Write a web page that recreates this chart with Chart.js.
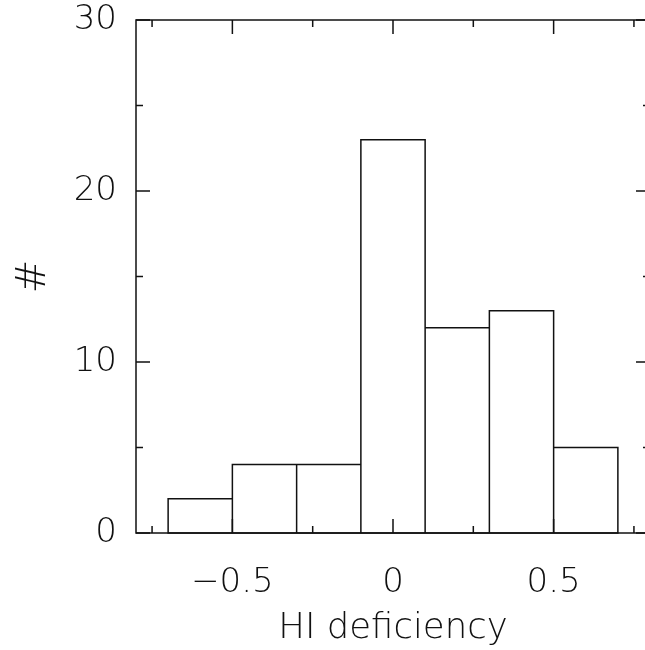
<!DOCTYPE html>
<html>
<head>
<meta charset="utf-8">
<script src="https://cdn.jsdelivr.net/npm/chart.js@4.4.1/dist/chart.umd.min.js"></script>
<style>
  html, body { margin:0; padding:0; background:#fff; overflow:hidden; }
  #wrap { width:645px; height:650px; overflow:hidden; position:relative; }
  #histo { display:block; }
</style>
</head>
<body>
<div id="wrap"><canvas id="histo" width="660" height="650"></canvas></div>
<script>
// ── Data ─────────────────────────────────────────────────────────
const binCenters = [-0.6, -0.4, -0.2, 0, 0.2, 0.4, 0.6];
const binCounts  = [2, 4, 4, 23, 12, 13, 5];
const xTickValues = [-0.5, 0, 0.5];
const xTickLabels = ['\u22120.5', '0', '0.5'];
const yTickValues = [0, 10, 20, 30];
const xTitle = 'HI deficiency';
const yTitle = '#';

const FONT = { family:"'DejaVu Sans', sans-serif", size:34, weight:'200', lineHeight:1.18 };
const INK = '#111';

// ── Bar outlines (shared edges drawn once) + frame + inward ticks ─
const framePlugin = {
  id: 'frame',
  afterDatasetsDraw(chart) {
    const { ctx, chartArea:a, scales:{ x, y } } = chart;
    const majorLen = 14, minorLen = 7;
    ctx.save();
    ctx.strokeStyle = INK;
    ctx.lineWidth = 1.5;

    // histogram outlines from the bar elements Chart.js laid out
    ctx.beginPath();
    chart.getDatasetMeta(0).data.forEach(bar => {
      const p = bar.getProps(['x', 'y', 'base', 'width'], true);
      ctx.rect(p.x - p.width / 2, p.y, p.width, p.base - p.y);
    });
    ctx.stroke();

    ctx.strokeRect(a.left, a.top, a.right - a.left, a.bottom - a.top);

    const minors = (vals, lo, hi) => {
      const half = (vals[1] - vals[0]) / 2;
      const out = [];
      for (let v = vals[0] - half; v >= lo - 1e-9; v -= 2*half) out.push(v);
      vals.forEach(v => out.push(v + half));
      return out.filter(v => v > lo + 1e-9 && v < hi - 1e-9);
    };

    ctx.beginPath();
    const xt = x.ticks.map(t => t.value);
    xt.forEach(v => {
      const px = x.getPixelForValue(v);
      ctx.moveTo(px, a.bottom); ctx.lineTo(px, a.bottom - majorLen);
      ctx.moveTo(px, a.top);    ctx.lineTo(px, a.top + majorLen);
    });
    minors(xt, x.min, x.max).forEach(v => {
      const px = x.getPixelForValue(v);
      ctx.moveTo(px, a.bottom); ctx.lineTo(px, a.bottom - minorLen);
      ctx.moveTo(px, a.top);    ctx.lineTo(px, a.top + minorLen);
    });
    const yt = y.ticks.map(t => t.value);
    yt.forEach(v => {
      const py = y.getPixelForValue(v);
      ctx.moveTo(a.left, py);  ctx.lineTo(a.left + majorLen, py);
      ctx.moveTo(a.right, py); ctx.lineTo(a.right - majorLen, py);
    });
    minors(yt, y.min, y.max).forEach(v => {
      const py = y.getPixelForValue(v);
      ctx.moveTo(a.left, py);  ctx.lineTo(a.left + minorLen, py);
      ctx.moveTo(a.right, py); ctx.lineTo(a.right - minorLen, py);
    });
    ctx.stroke();
    ctx.restore();
  }
};

new Chart(document.getElementById('histo'), {
  type: 'bar',
  data: {
    datasets: [{
      data: binCenters.map((c, i) => ({ x:c, y:binCounts[i] })),
      backgroundColor: 'rgba(255,255,255,0)',
      borderWidth: 0,
      barPercentage: 1,
      categoryPercentage: 1,
    }]
  },
  options: {
    responsive: false,
    animation: false,
    layout: { padding: { left:0, right:10, top:0, bottom:0 } },
    plugins: { legend:{ display:false }, tooltip:{ enabled:false } },
    scales: {
      x: {
        type: 'linear',
        offset: false,
        min: -0.8, max: 0.8,
        grid: { display:false, drawTicks:false, offset:false },
        border: { display:false },
        afterBuildTicks: s => { s.ticks = xTickValues.map(v => ({ value:v })); },
        ticks: {
          color: INK, font: FONT, padding: 30, maxRotation: 0,
          callback: v => xTickLabels[xTickValues.indexOf(v)]
        },
        title: { display:true, text:xTitle, color:INK, font:{ ...FONT, size:35.5 }, padding:{ top:6, bottom:0 } },
        afterFit: s => { s.height = 117; }
      },
      y: {
        min: 0, max: 30,
        grid: { display:false, drawTicks:false },
        border: { display:false },
        afterBuildTicks: s => { s.ticks = yTickValues.map(v => ({ value:v })); },
        ticks: { color: INK, font: FONT, padding: 19 },
        title: { display:true, text:yTitle, color:INK, font:{ ...FONT, size:40 }, padding:{ top:11, bottom:0 } },
        afterFit: s => { s.width = 136; s.paddingTop = 20; s.paddingBottom = 20; }
      }
    }
  },
  plugins: [framePlugin]
});
</script>
</body>
</html>
